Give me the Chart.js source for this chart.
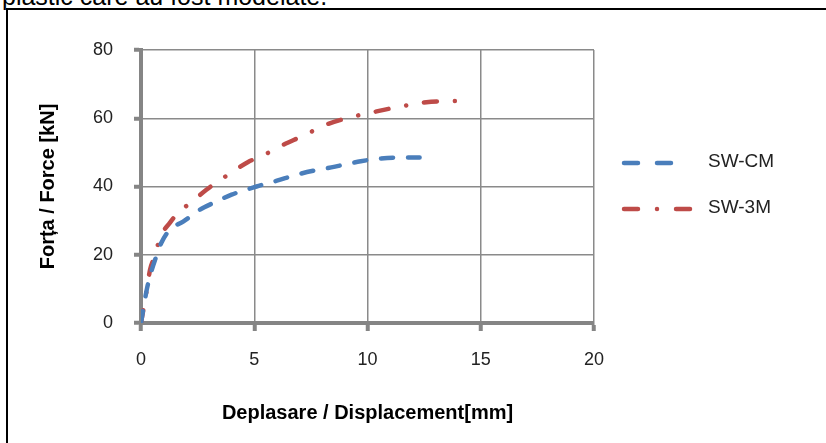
<!DOCTYPE html>
<html>
<head>
<meta charset="utf-8">
<script src="https://cdn.jsdelivr.net/npm/chart.js@4.4.1/dist/chart.umd.min.js"></script>
<style>
  html, body { margin: 0; padding: 0; background: #fff; overflow: hidden; }
  body { width: 826px; height: 443px; position: relative; }
  #toptext { position: absolute; left: 2px; top: -16px; font: 25px/25px "Liberation Sans", Arial, sans-serif; color: #000; white-space: nowrap; }
  #frame { position: absolute; left: 6px; top: 8px; width: 830px; height: 450px; border-left: 2px solid #000; border-top: 2px solid #000; }
  #wrap { position: absolute; left: 0; top: 0; width: 826px; height: 443px; }
</style>
</head>
<body>
<div id="toptext">plastic care au fost modelate.</div>
<div id="frame"></div>
<div id="wrap"><canvas id="c" width="826" height="443"></canvas></div>
<script>
// ---- data ----
const seriesNames = ["SW-CM", "SW-3M"];
const swcmX = [0, 0.1, 0.27, 0.45, 0.62, 0.9, 1.28, 1.86, 2.6, 3.2, 4.0, 5.1, 6.0, 6.9, 7.6, 8.4, 9.7, 10.6, 11.5, 12.3];
const swcmY = [0, 4, 10.3, 15, 18.5, 23.5, 27.4, 29.7, 33.2, 35.2, 37.6, 40, 41.7, 43.5, 44.6, 45.6, 47.4, 48.2, 48.5, 48.5];
const sw3mX = [0, 0.1, 0.25, 0.4, 0.62, 0.84, 1.28, 1.64, 2.3, 2.9, 3.4, 4.07, 4.73, 5.3, 6.15, 7.2, 8.2, 9.2, 10.4, 11.5, 12.6, 13.3, 14.07];
const sw3mY = [0, 3.8, 9.5, 15.6, 19.8, 25, 29.4, 32.3, 35.8, 39.1, 41.5, 44.4, 47.2, 48.8, 51.8, 55, 58.2, 60.2, 62, 63.5, 64.7, 65, 65.1];
const xTicks = [0, 5, 10, 15, 20];
const yTicks = [0, 20, 40, 60, 80];
const xTitle = "Deplasare / Displacement[mm]";
const yTitle = "Forța / Force [kN]";

const toPts = (xs, ys) => xs.map((x, i) => ({ x: x, y: ys[i] }));

const legendPlugin = {
  id: 'customLegend',
  afterDraw(chart) {
    const ctx = chart.ctx;
    const items = [
      { ds: chart.data.datasets[0], y: 163, x1: 624, x2: 671, dash: [14, 19] },
      { ds: chart.data.datasets[1], y: 209, x1: 624, x2: 691, dash: [14, 19, 0.01, 19] }
    ];
    ctx.save();
    items.forEach(it => {
      ctx.beginPath();
      ctx.strokeStyle = it.ds.borderColor;
      ctx.lineWidth = 4.5;
      ctx.lineCap = 'round';
      ctx.setLineDash(it.dash);
      ctx.moveTo(it.x1, it.y);
      ctx.lineTo(it.x2, it.y);
      ctx.stroke();
      ctx.setLineDash([]);
      ctx.fillStyle = '#222';
      ctx.font = '19px "Liberation Sans", Arial, sans-serif';
      ctx.textBaseline = 'middle';
      ctx.textAlign = 'left';
      ctx.fillText(it.ds.label, 708, it.y - 1);
    });
    ctx.restore();
  }
};

new Chart(document.getElementById('c'), {
  type: 'scatter',
  data: {
    datasets: [
      {
        label: seriesNames[0],
        data: toPts(swcmX, swcmY),
        showLine: true,
        borderColor: '#4a7ebb',
        borderWidth: 4.5,
        borderDash: [12, 15],
        borderCapStyle: 'round',
        pointRadius: 0,
        cubicInterpolationMode: 'monotone'
      },
      {
        label: seriesNames[1],
        data: toPts(sw3mX, sw3mY),
        showLine: true,
        borderColor: '#be4b48',
        borderWidth: 4.5,
        borderDash: [13, 18, 0.01, 18],
        borderCapStyle: 'round',
        pointRadius: 0,
        cubicInterpolationMode: 'monotone'
      }
    ]
  },
  options: {
    responsive: false,
    animation: false,
    devicePixelRatio: 1,
    layout: { padding: { top: 50, right: 232, left: 0, bottom: 0 } },
    plugins: { legend: { display: false }, tooltip: { enabled: false } },
    scales: {
      x: {
        type: 'linear',
        min: 0, max: 20,
        afterFit(s) { s.height = 120; },
        afterBuildTicks(s) { s.ticks = xTicks.map(v => ({ value: v })); },
        ticks: { padding: 18, color: '#222', font: { family: '"Liberation Sans", Arial, sans-serif', size: 18 } },
        grid: { color: '#8a8a8a', lineWidth: 1.5, tickLength: 8, tickColor: '#858585', tickWidth: 4 },
        border: { color: '#858585', width: 4 },
        title: { display: true, text: xTitle, color: '#000', padding: { top: 4, bottom: 18 },
                 font: { family: '"Liberation Sans", Arial, sans-serif', size: 20, weight: 'bold' } }
      },
      y: {
        type: 'linear',
        min: 0, max: 80,
        afterFit(s) { s.width = 141; },
        afterBuildTicks(s) { s.ticks = yTicks.map(v => ({ value: v })); },
        ticks: { padding: 21, color: '#222', font: { family: '"Liberation Sans", Arial, sans-serif', size: 18 } },
        grid: { color: '#8a8a8a', lineWidth: 1.5, tickLength: 7, tickColor: '#858585', tickWidth: 4 },
        border: { color: '#858585', width: 4 },
        title: { display: true, text: yTitle, color: '#000', padding: { top: 36, bottom: 4 },
                 font: { family: '"Liberation Sans", Arial, sans-serif', size: 20, weight: 'bold' } }
      }
    }
  },
  plugins: [legendPlugin]
});
</script>
</body>
</html>
